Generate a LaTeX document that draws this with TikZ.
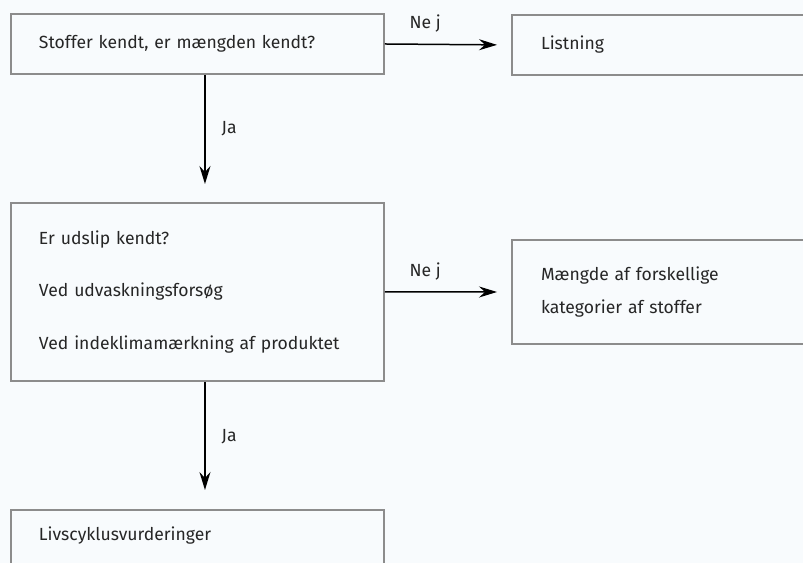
\documentclass[tikz,border=0pt]{standalone}
\usepackage{fontspec}
\setmainfont{Fira Sans}
\usetikzlibrary{arrows.meta}
\definecolor{boxgray}{HTML}{8C8C8C}
\definecolor{txtgray}{HTML}{262626}
\definecolor{bgpaper}{HTML}{F8FBFD}
\tikzset{
  askbox/.style={draw=boxgray, line width=0.04cm, text=txtgray, align=left, anchor=north west,
    inner xsep=0.56cm, inner ysep=0pt, font=\fontsize{10}{12}\selectfont},
  arr/.style={-{Stealth[length=0.36cm, width=0.22cm, inset=0.12cm]}, line width=0.03cm, black},
  lbl/.style={text=txtgray, inner sep=0pt, font=\fontsize{10}{11}\selectfont},
}

\begin{document}
\begin{tikzpicture}[x=0.02cm, y=-0.02cm]
			%%%%% START %%%%%
			
			\useasboundingbox (0, 0) rectangle (803, 563);
			\fill[bgpaper] (0, 0) rectangle (803, 563);
			\clip (0, 0) rectangle (803, 563);
			
			\node[askbox, text width=6.34cm, minimum height=1.2cm] (stoffer) at (10, 13) {Stoffer kendt, er mængden kendt?};
			\node[askbox, text width=5.22cm, inner xsep=0.58cm, minimum height=1.2cm] (listning) at (511, 14) {Listning};
			
			\node[askbox, text width=6.34cm, minimum height=3.56cm, font=\fontsize{10}{30}\selectfont] (udslip) at (10, 202)
				{Er udslip kendt?\\Ved udvaskningsforsøg\\Ved indeklimamærkning af produktet};
			\node[askbox, text width=5.22cm, inner xsep=0.58cm, minimum height=2.08cm, font=\fontsize{10}{19.3}\selectfont] (maengde) at (511, 239)
				{Mængde af forskellige\\kategorier af stoffer};
			
			\node[askbox, text width=6.34cm, inner ysep=0.2cm, text height=0.42cm, text depth=0.4cm] (livscyklus) at (10, 509) {Livscyklusvurderinger};
			
			\draw[arr, shorten >=0.28cm] (stoffer.east) -- node[lbl, pos=0.32, above=0.22cm] {Ne j} (listning.west);
			\draw[arr, shorten >=0.36cm] ([xshift=0.15cm]stoffer.south) -- node[lbl, pos=0.42, right=0.32cm] {Ja} ([xshift=0.15cm]udslip.north);
			
			\draw[arr, shorten >=0.28cm] (udslip.east) -- node[lbl, pos=0.32, above=0.22cm] {Ne j} (maengde.west);
			\draw[arr, shorten >=0.38cm] ([xshift=0.15cm]udslip.south) -- node[lbl, pos=0.43, right=0.32cm] {Ja} ([xshift=0.15cm]livscyklus.north);
			
			%%%%% END %%%%%
		\end{tikzpicture}
\end{document}
